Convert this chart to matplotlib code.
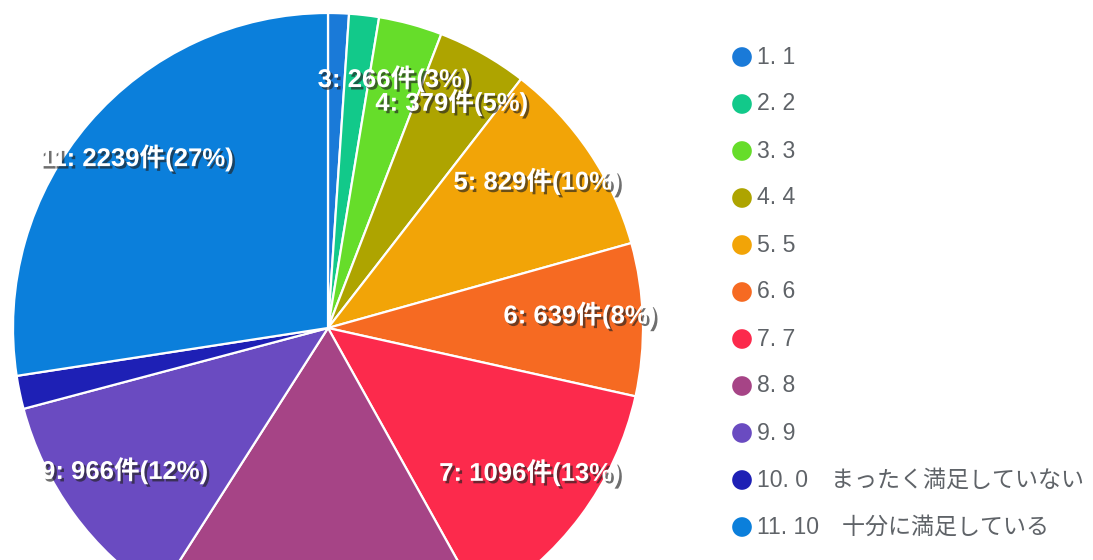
import numpy as np
import matplotlib
matplotlib.use("Agg")
import matplotlib.pyplot as plt
import matplotlib.patheffects as pe

# answers 1..11 (0..10 scale), counts
labels = ["1. 1", "2. 2", "3. 3", "4. 4", "5. 5", "6. 6", "7. 7", "8. 8", "9. 9",
          "10. 0\u3000まったく満足していない", "11. 10\u3000十分に満足している"]
counts = [87, 125, 266, 379, 829, 639, 1096, 1398, 966, 139, 2239]
colors = ["#1a7ad8", "#12c98a", "#66dd2a", "#aea400", "#f2a407", "#f66a22",
          "#fc2a4c", "#a64486", "#6a4bc1", "#1e20b5", "#0b7fdb"]

font = ["Liberation Sans", "Noto Sans CJK JP", "DejaVu Sans"]
plt.rcParams["font.family"] = font

fig = plt.figure(figsize=(10.93, 5.6), dpi=100)
W, H = 1093, 560
cx, cy, R = 328, 328, 315
ax = fig.add_axes([(cx - R) / W, (H - cy - R) / H, 2 * R / W, 2 * R / H])

wedges, _ = ax.pie(counts, colors=colors, startangle=90, counterclock=False,
                   radius=1, wedgeprops=dict(edgecolor="white", linewidth=1.6))
ax.set_xlim(-1, 1)
ax.set_ylim(-1, 1)
ax.set_aspect("equal")
ax.axis("off")

total = sum(counts)
shadow = [pe.SimplePatchShadow(offset=(1.8, -1.8), shadow_rgbFace="#222222", alpha=0.65),
          pe.Normal()]
for i, (w, c) in enumerate(zip(wedges, counts)):
    pct = 100 * c / total
    if pct < 2:
        continue
    mid = np.deg2rad((w.theta1 + w.theta2) / 2)
    x, y = 0.8 * np.cos(mid), 0.8 * np.sin(mid) + 0.02
    ax.text(x, y, f"{i + 1}: {c}件({pct:.0f}%)", ha="center", va="center",
            color="white", fontsize=18.5, fontweight="bold", path_effects=shadow,
            clip_on=False)

# legend on the right
lax = fig.add_axes([0, 0, 1, 1])
lax.set_xlim(0, W)
lax.set_ylim(H, 0)
lax.axis("off")
ys = 57 + 47 * np.arange(len(labels))
lax.scatter(np.full(len(labels), 742), ys, s=200, c=colors, linewidths=0)
for y, lab in zip(ys, labels):
    lax.text(757, y, lab, ha="left", va="center", fontsize=16.6, color="#5f6368")

fig.savefig("out.png", dpi=100)
